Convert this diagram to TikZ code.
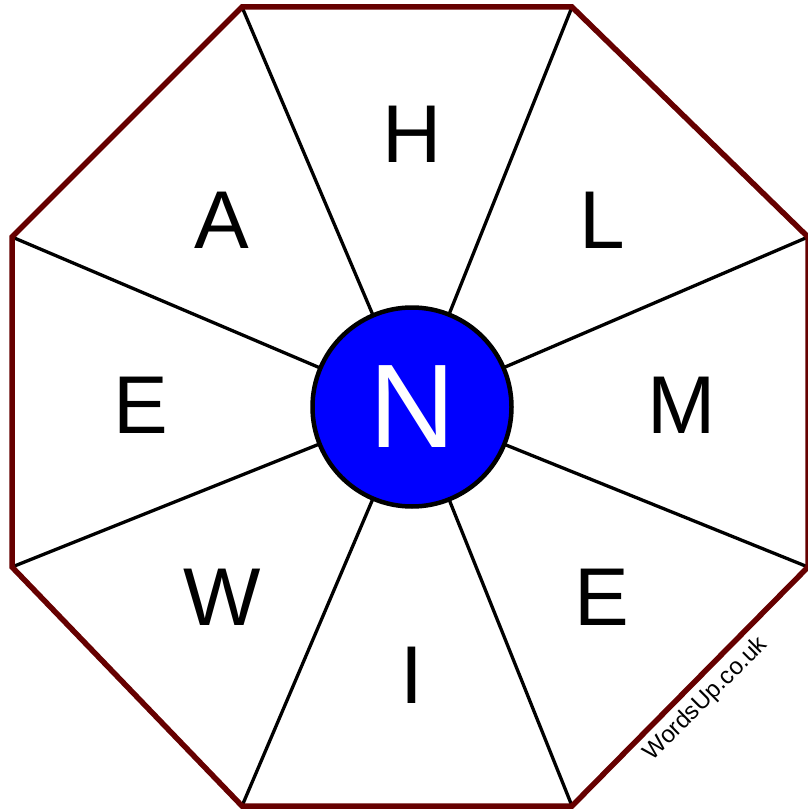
\documentclass[tikz,border=0pt]{standalone}
\usepackage{fontspec}
\setmainfont{Liberation Sans}
\definecolor{octred}{HTML}{660000}
\definecolor{hubblue}{HTML}{0000FF}
\tikzset{
  rim/.style={draw=octred, line width=5.5pt, line join=miter},
  spoke/.style={draw=black, line width=3.3pt},
  hub/.style={circle, draw=black, line width=4.5pt, fill=hubblue, minimum size=199pt, inner sep=0pt},
  letter/.style={inner sep=0pt, anchor=center, font=\fontsize{82}{90}\selectfont},
  hubletter/.style={inner sep=0pt, anchor=center, text=white, font=\fontsize{119}{130}\selectfont},
  credit/.style={inner sep=0pt, anchor=center, rotate=45, font=\fontsize{24}{26}\selectfont}
}
\begin{document}
\begin{tikzpicture}[x=1pt,y=-1pt]
\useasboundingbox (0,0) rectangle (807,810);
\coordinate (v1) at (242,7);
\coordinate (v2) at (572,7);
\coordinate (v3) at (808,237);
\coordinate (v4) at (808,567);
\coordinate (v5) at (572,806);
\coordinate (v6) at (242,806);
\coordinate (v7) at (12,567);
\coordinate (v8) at (12,237);
\coordinate (c) at (412,407);
\foreach \i in {1,...,8} \draw[spoke] (c) -- (v\i);
\draw[rim] (v1) -- (v2) -- (v3) -- (v4) -- (v5) -- (v6) -- (v7) -- (v8) -- cycle;
\node[hub] (hubc) at (c) {};
\node[hubletter] (n) at (c) {N};
\node[letter] (h) at (412,134) {H};
\node[letter] (l) at (602,220) {L};
\node[letter] (m) at (682,405) {M};
\node[letter] (e1) at (602,597) {E};
\node[letter] (i) at (412,675) {I};
\node[letter] (w) at (222,597) {W};
\node[letter] (e2) at (141,405) {E};
\node[letter] (a) at (222,220) {A};
\node[credit] (cr) at (706,699) {WordsUp.co.uk};
\end{tikzpicture}
\end{document}
